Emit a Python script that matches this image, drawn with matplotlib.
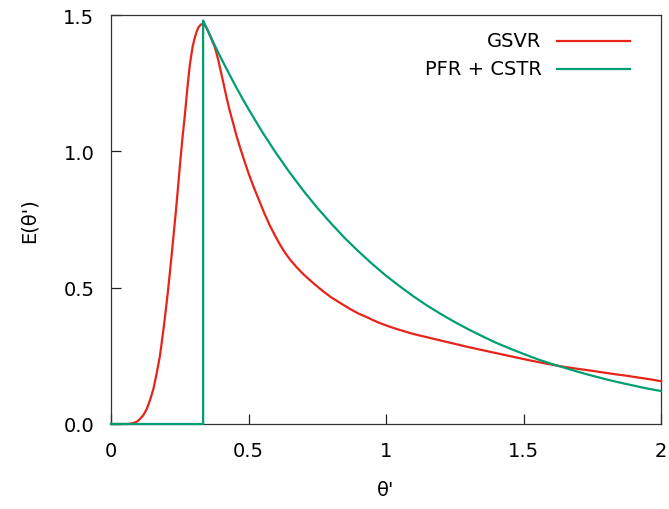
import matplotlib
matplotlib.use("Agg")
import matplotlib.pyplot as plt
from matplotlib.lines import Line2D

# GSVR curve
gsvr_x = [0, 0.06, 0.08, 0.095, 0.105, 0.118, 0.13, 0.142, 0.154, 0.166, 0.178,
          0.186, 0.194, 0.201, 0.208, 0.222, 0.235, 0.243, 0.251, 0.26, 0.269,
          0.278, 0.287, 0.297, 0.305, 0.312, 0.318, 0.325, 0.33, 0.336, 0.342,
          0.35, 0.36, 0.368, 0.378, 0.39, 0.40, 0.41, 0.42, 0.432, 0.445, 0.457,
          0.469, 0.485, 0.50, 0.52, 0.539, 0.558, 0.578, 0.597, 0.615, 0.633,
          0.651, 0.675, 0.70, 0.725, 0.748, 0.775, 0.80, 0.835, 0.869, 0.90,
          0.93, 0.955, 0.978, 1.01, 1.04, 1.07, 1.1, 1.15, 1.2, 1.25, 1.3, 1.35,
          1.4, 1.46, 1.52, 1.58, 1.645, 1.70, 1.75, 1.79, 1.83, 1.875, 1.92,
          1.96, 2.0]
gsvr_y = [0, 0, 0.003, 0.009, 0.018, 0.033, 0.055, 0.088, 0.128, 0.185, 0.25,
          0.31, 0.373, 0.433, 0.495, 0.635, 0.77, 0.86, 0.953, 1.05, 1.137,
          1.235, 1.32, 1.385, 1.418, 1.44, 1.455, 1.463, 1.467, 1.466, 1.46,
          1.448, 1.425, 1.405, 1.381, 1.335, 1.29, 1.245, 1.198, 1.148, 1.10, 1.055,
          1.015, 0.965, 0.92, 0.866, 0.819, 0.772, 0.727, 0.69, 0.657, 0.628,
          0.603, 0.575, 0.549, 0.526, 0.506, 0.484, 0.465, 0.443, 0.422, 0.405,
          0.392, 0.38, 0.37, 0.358, 0.348, 0.339, 0.33, 0.318, 0.306, 0.294, 0.282,
          0.271, 0.26, 0.247, 0.234, 0.222, 0.21, 0.202, 0.195, 0.189, 0.183,
          0.177, 0.17, 0.164, 0.157]

# PFR + CSTR curve
pfr_x = [0, 0.335, 0.335, 0.36, 0.38, 0.40, 0.425, 0.45, 0.475, 0.50, 0.55, 0.60,
         0.65, 0.70, 0.75, 0.80, 0.85, 0.90, 0.95, 1.00, 1.05, 1.10, 1.15, 1.20,
         1.25, 1.30, 1.35, 1.40, 1.45, 1.50, 1.55, 1.60, 1.65, 1.70, 1.75, 1.80,
         1.85, 1.90, 1.95, 2.00]
pfr_y = [0, 0, 1.48, 1.425, 1.383, 1.342, 1.293, 1.245, 1.199, 1.155, 1.071, 0.994,
         0.922, 0.855, 0.793, 0.736, 0.682, 0.633, 0.587, 0.544, 0.505, 0.468,
         0.434, 0.403, 0.374, 0.347, 0.322, 0.298, 0.277, 0.257, 0.238, 0.221,
         0.206, 0.191, 0.177, 0.164, 0.152, 0.141, 0.130, 0.121]

series_labels = ["GSVR", "PFR + CSTR"]
series_colors = ["#e8231a", "#009e73"]

xticks = [0, 0.5, 1, 1.5, 2]
xticklabels = ["0", "0.5", "1", "1.5", "2"]
yticks = [0.0, 0.5, 1.0, 1.5]
yticklabels = ["0.0", "0.5", "1.0", "1.5"]

plt.rcParams['font.family'] = ['DejaVu Sans']
fig = plt.figure(figsize=(6.69, 5.10), dpi=100)
ax = fig.add_axes([111/669, 85/510, 550/669, 409/510])

ax.plot(gsvr_x, gsvr_y, color=series_colors[0], lw=1.6, clip_on=False, zorder=3,
        solid_joinstyle='round')
ax.plot(pfr_x, pfr_y, color=series_colors[1], lw=1.6, clip_on=False, zorder=3,
        solid_joinstyle='round')

ax.set_xlim(0, 2)
ax.set_ylim(0, 1.5)
ax.set_xticks(xticks)
ax.set_xticklabels(xticklabels)
ax.set_yticks(yticks)
ax.set_yticklabels(yticklabels)
ax.tick_params(direction='in', length=7, width=0.9, labelsize=14, pad=12,
               top=False, right=False, color='#222222')
for s in ax.spines.values():
    s.set_linewidth(0.9)
    s.set_color('#333333')

ax.set_xlabel("θ'", fontsize=14, labelpad=15)
ax.set_ylabel("E(θ')", fontsize=14, labelpad=18)

# gnuplot-style key: right-aligned text, sample line to the right
key_y = [0.937, 0.868]
for lab, col, ky in zip(series_labels, series_colors, key_y):
    ax.text(0.783, ky, lab, transform=ax.transAxes, ha='right', va='center',
            fontsize=14)
    ax.add_line(Line2D([0.810, 0.944], [ky, ky], transform=ax.transAxes,
                       color=col, lw=1.6))

fig.savefig("out.png", dpi=100)
